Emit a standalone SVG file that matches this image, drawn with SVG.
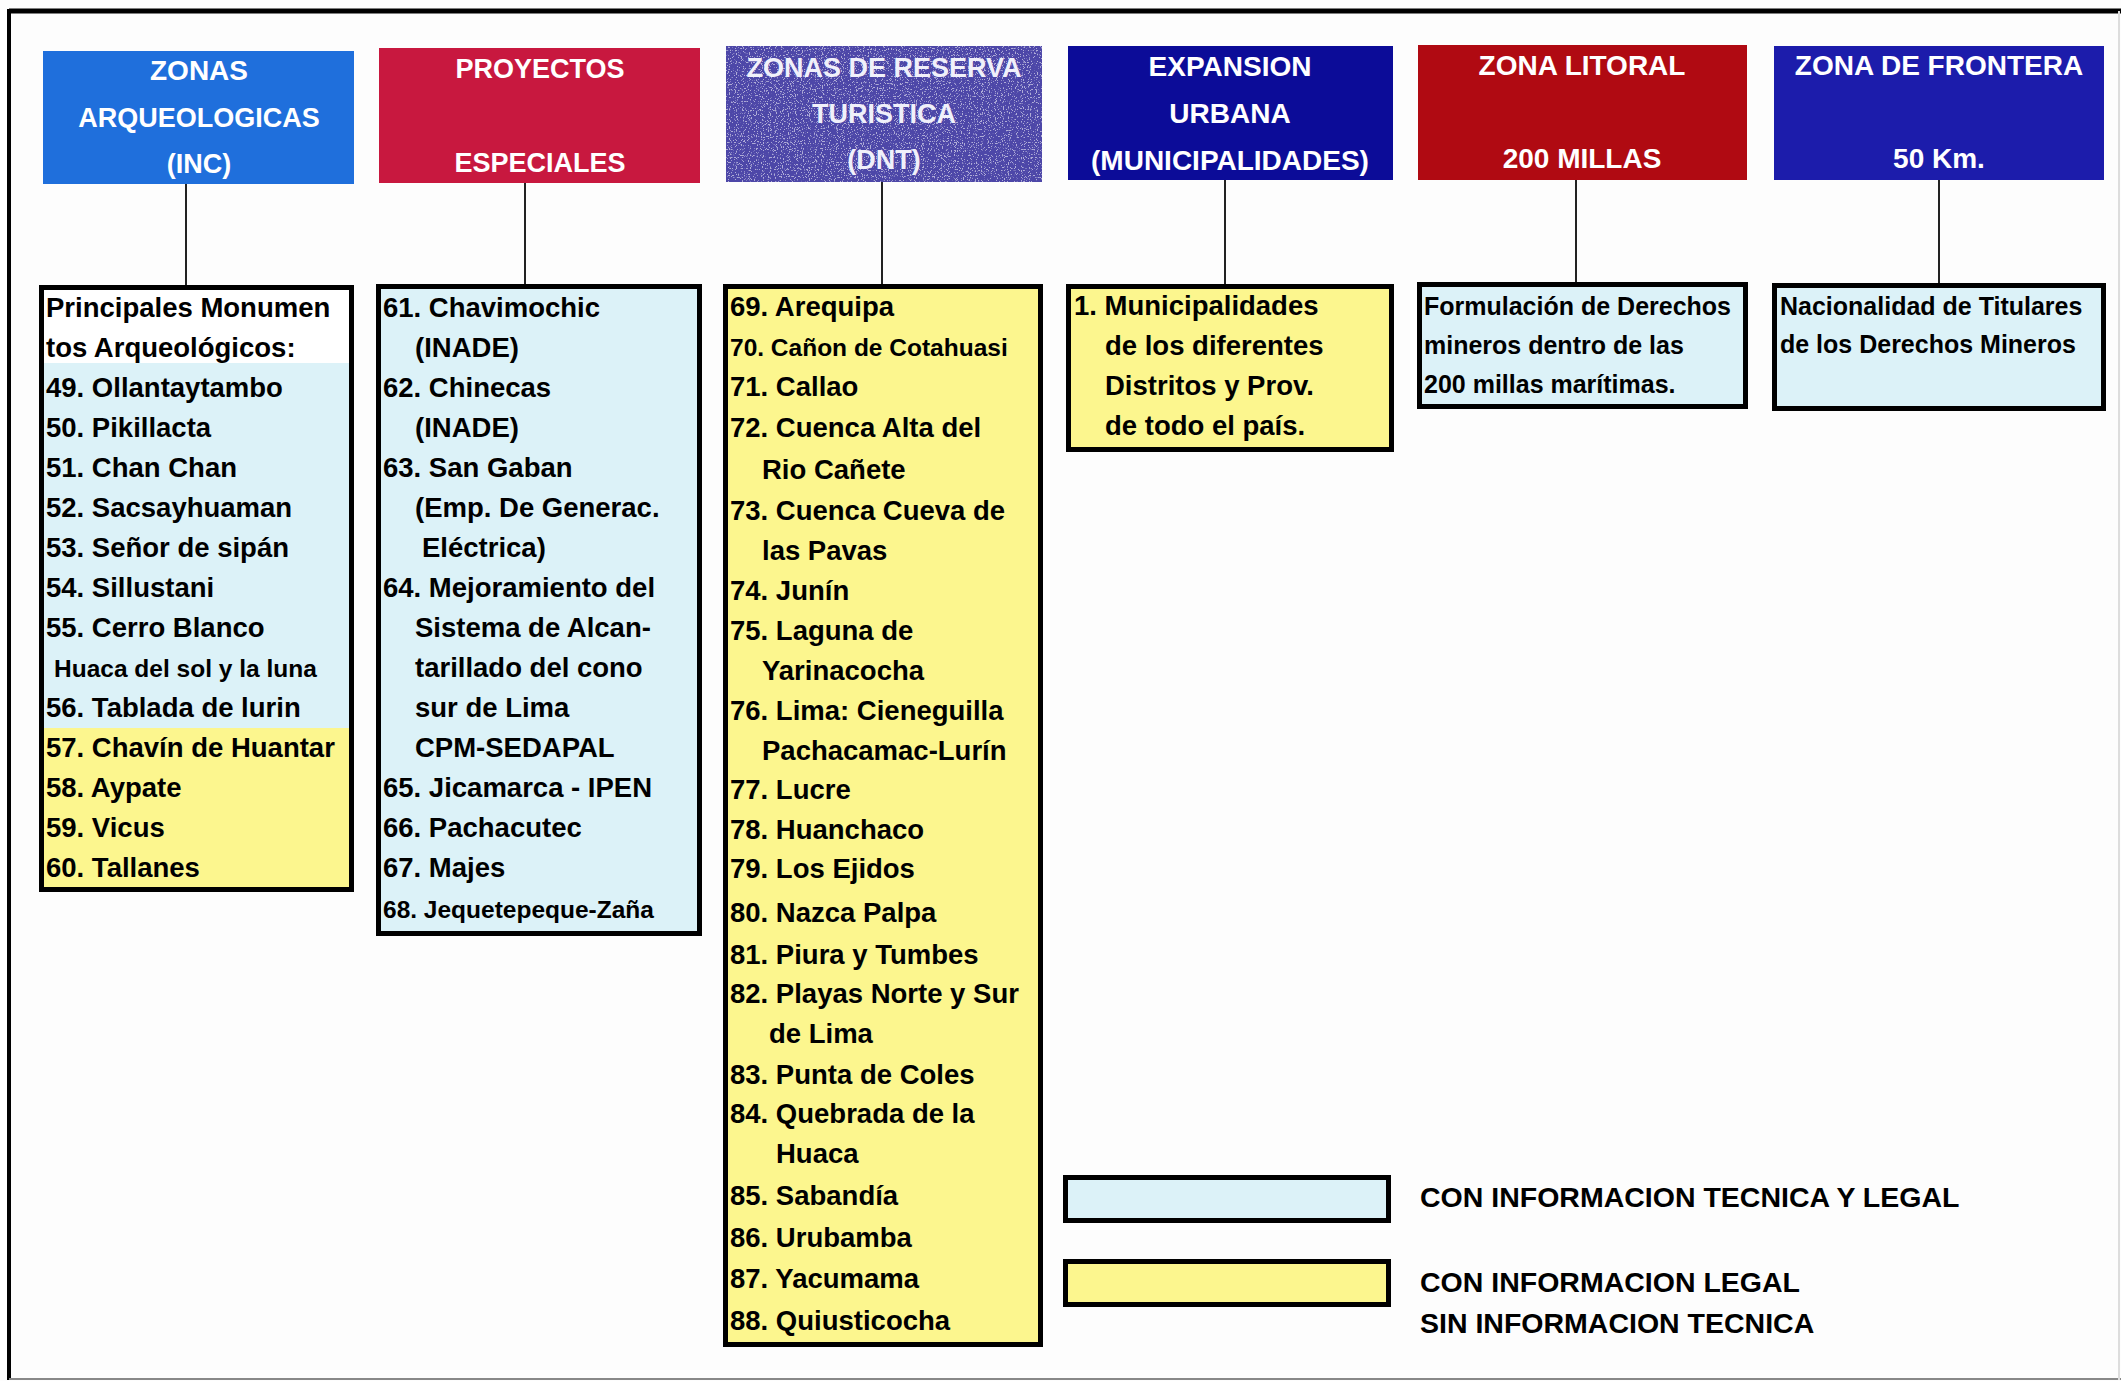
<svg xmlns="http://www.w3.org/2000/svg" width="2121" height="1381" viewBox="0 0 2121 1381">
<defs>
<style>
text{font-family:"Liberation Sans",Arial,sans-serif;font-weight:bold}
.h{fill:#fff;text-anchor:middle;font-size:28px}
.t{fill:#000;font-size:27.5px}
.s{fill:#000;font-size:24.5px}
.box{fill:none;stroke:#000;stroke-width:5}
.blue{fill:#dcf2f8}
.yel{fill:#fcf68e}
.con{stroke:#222;stroke-width:2;fill:none}
</style>
<filter id="speckle" x="0" y="0" width="100%" height="100%">
<feTurbulence type="fractalNoise" baseFrequency="0.85" numOctaves="2" seed="4" result="n"/>
<feColorMatrix in="n" type="matrix" values="0 0 0 0 1  0 0 0 0 1  0 0 0 0 1  12 0 0 0 -7.0"/>
<feComposite in2="SourceGraphic" operator="in"/>
</filter>
</defs>
<rect width="2121" height="1381" fill="#fdfdfd"/>
<g id="frame">
<line x1="9" y1="11" x2="2121" y2="11" stroke="#000" stroke-width="5"/>
<line x1="9" y1="9" x2="9" y2="1380" stroke="#000" stroke-width="4"/>
<line x1="9" y1="1379" x2="2121" y2="1379" stroke="#888" stroke-width="2"/>
<line x1="2119" y1="11" x2="2119" y2="1380" stroke="#ddd" stroke-width="2"/>
</g>
<g id="connectors">
<line class="con" x1="186" y1="184" x2="186" y2="287"/>
<line class="con" x1="525" y1="183" x2="525" y2="286"/>
<line class="con" x1="882" y1="182" x2="882" y2="286"/>
<line class="con" x1="1225" y1="180" x2="1225" y2="286"/>
<line class="con" x1="1576" y1="180" x2="1576" y2="284"/>
<line class="con" x1="1939" y1="180" x2="1939" y2="285"/>
</g>
<g id="h-arqueologicas">
<rect x="43" y="51" width="311" height="133" fill="#1f6fdc"/>
<text class="h" x="199" y="80" font-size="27">ZONAS</text>
<text class="h" x="199" y="127" style="font-size:27px">ARQUEOLOGICAS</text>
<text class="h" x="199" y="173" style="font-size:27px">(INC)</text>
</g>
<g id="h-proyectos">
<rect x="379" y="48" width="321" height="135" fill="#c8183f"/>
<text class="h" x="540" y="78" style="font-size:27px">PROYECTOS</text>
<text class="h" x="540" y="172" style="font-size:27px">ESPECIALES</text>
</g>
<g id="h-reserva">
<rect x="726" y="46" width="316" height="136" fill="#4d47a8"/>
<rect x="726" y="46" width="316" height="136" fill="#fff" opacity="0.55" filter="url(#speckle)"/>
<text class="h" x="884" y="77" style="font-size:27px;fill:#f0f0fa">ZONAS DE RESERVA</text>
<text class="h" x="884" y="123" style="font-size:27px;fill:#f0f0fa">TURISTICA</text>
<text class="h" x="884" y="169" style="font-size:27px;fill:#f0f0fa">(DNT)</text>
</g>
<g id="h-expansion">
<rect x="1068" y="46" width="325" height="134" fill="#0c0c98"/>
<text class="h" x="1230" y="76">EXPANSION</text>
<text class="h" x="1230" y="123">URBANA</text>
<text class="h" x="1230" y="170">(MUNICIPALIDADES)</text>
</g>
<g id="h-litoral">
<rect x="1418" y="45" width="329" height="135" fill="#b00a12"/>
<text class="h" x="1582" y="75">ZONA LITORAL</text>
<text class="h" x="1582" y="168">200 MILLAS</text>
</g>
<g id="h-frontera">
<rect x="1774" y="46" width="330" height="134" fill="#1c1cab"/>
<text class="h" x="1939" y="75">ZONA DE FRONTERA</text>
<text class="h" x="1939" y="168">50 Km.</text>
</g>
<g id="d-arqueologicas">
<rect x="44" y="290" width="308" height="73" fill="#fff"/>
<rect class="blue" x="44" y="363" width="308" height="365"/>
<rect class="yel" x="44" y="728" width="308" height="162"/>
<rect class="box" x="41.5" y="287.5" width="310" height="602"/>
<text class="t" x="46" y="317">Principales Monumen</text>
<text class="t" x="46" y="357">tos Arqueológicos:</text>
<text class="t" x="46" y="397">49. Ollantaytambo</text>
<text class="t" x="46" y="437">50. Pikillacta</text>
<text class="t" x="46" y="477">51. Chan Chan</text>
<text class="t" x="46" y="517">52. Sacsayhuaman</text>
<text class="t" x="46" y="557">53. Señor de sipán</text>
<text class="t" x="46" y="597">54. Sillustani</text>
<text class="t" x="46" y="637">55. Cerro Blanco</text>
<text class="s" x="54" y="677">Huaca del sol y la luna</text>
<text class="t" x="46" y="717">56. Tablada de lurin</text>
<text class="t" x="46" y="757">57. Chavín de Huantar</text>
<text class="t" x="46" y="797">58. Aypate</text>
<text class="t" x="46" y="837">59. Vicus</text>
<text class="t" x="46" y="877">60. Tallanes</text>
</g>
<g id="d-proyectos">
<rect class="blue" x="378.5" y="286.5" width="321" height="647"/>
<rect class="box" x="378.5" y="286.5" width="321" height="647"/>
<text class="t" x="383" y="317">61. Chavimochic</text>
<text class="t" x="415" y="357">(INADE)</text>
<text class="t" x="383" y="397">62. Chinecas</text>
<text class="t" x="415" y="437">(INADE)</text>
<text class="t" x="383" y="477">63. San Gaban</text>
<text class="t" x="415" y="517">(Emp. De Generac.</text>
<text class="t" x="422" y="557">Eléctrica)</text>
<text class="t" x="383" y="597">64. Mejoramiento del</text>
<text class="t" x="415" y="637">Sistema de Alcan-</text>
<text class="t" x="415" y="677">tarillado del cono</text>
<text class="t" x="415" y="717">sur de Lima</text>
<text class="t" x="415" y="757">CPM-SEDAPAL</text>
<text class="t" x="383" y="797">65. Jicamarca - IPEN</text>
<text class="t" x="383" y="837">66. Pachacutec</text>
<text class="t" x="383" y="877">67. Majes</text>
<text class="s" x="383" y="918">68. Jequetepeque-Zaña</text>
</g>
<g id="d-reserva">
<rect class="yel" x="725.5" y="286.5" width="315" height="1058"/>
<rect class="box" x="725.5" y="286.5" width="315" height="1058"/>
<text class="t" x="730" y="316">69. Arequipa</text>
<text class="s" x="730" y="356">70. Cañon de Cotahuasi</text>
<text class="t" x="730" y="396">71. Callao</text>
<text class="t" x="730" y="437">72. Cuenca Alta del</text>
<text class="t" x="762" y="479">Rio Cañete</text>
<text class="t" x="730" y="520">73. Cuenca Cueva de</text>
<text class="t" x="762" y="560">las Pavas</text>
<text class="t" x="730" y="600">74. Junín</text>
<text class="t" x="730" y="640">75. Laguna de</text>
<text class="t" x="762" y="680">Yarinacocha</text>
<text class="t" x="730" y="720">76. Lima: Cieneguilla</text>
<text class="t" x="762" y="760">Pachacamac-Lurín</text>
<text class="t" x="730" y="799">77. Lucre</text>
<text class="t" x="730" y="839">78. Huanchaco</text>
<text class="t" x="730" y="878">79. Los Ejidos</text>
<text class="t" x="730" y="922">80. Nazca Palpa</text>
<text class="t" x="730" y="964">81. Piura y Tumbes</text>
<text class="t" x="730" y="1003">82. Playas Norte y Sur</text>
<text class="t" x="769" y="1043">de Lima</text>
<text class="t" x="730" y="1084">83. Punta de Coles</text>
<text class="t" x="730" y="1123">84. Quebrada de la</text>
<text class="t" x="776" y="1163">Huaca</text>
<text class="t" x="730" y="1205">85. Sabandía</text>
<text class="t" x="730" y="1247">86. Urubamba</text>
<text class="t" x="730" y="1288">87. Yacumama</text>
<text class="t" x="730" y="1330">88. Quiusticocha</text>
</g>
<g id="d-expansion">
<rect class="yel" x="1068.5" y="286.5" width="323" height="163"/>
<rect class="box" x="1068.5" y="286.5" width="323" height="163"/>
<text class="t" x="1074" y="315">1. Municipalidades</text>
<text class="t" x="1105" y="355">de los diferentes</text>
<text class="t" x="1105" y="395">Distritos y Prov.</text>
<text class="t" x="1105" y="435">de todo el país.</text>
</g>
<g id="d-litoral">
<rect class="blue" x="1419.5" y="284.5" width="326" height="122"/>
<rect class="box" x="1419.5" y="284.5" width="326" height="122"/>
<text class="s" x="1424" y="315" style="font-size:25px">Formulación de Derechos</text>
<text class="s" x="1424" y="354" style="font-size:25px">mineros dentro de las</text>
<text class="s" x="1424" y="393" style="font-size:25px">200 millas marítimas.</text>
</g>
<g id="d-frontera">
<rect class="blue" x="1774.5" y="285.5" width="329" height="123"/>
<rect class="box" x="1774.5" y="285.5" width="329" height="123"/>
<text class="s" x="1780" y="315" style="font-size:25px">Nacionalidad de Titulares</text>
<text class="s" x="1780" y="353" style="font-size:25px">de los Derechos Mineros</text>
</g>
<g id="legend">
<rect class="blue" x="1065.5" y="1177.5" width="323" height="43"/>
<rect class="box" x="1065.5" y="1177.5" width="323" height="43"/>
<rect class="yel" x="1065.5" y="1261.5" width="323" height="43"/>
<rect class="box" x="1065.5" y="1261.5" width="323" height="43"/>
<text class="t" x="1420" y="1207" style="font-size:28.5px">CON INFORMACION TECNICA Y LEGAL</text>
<text class="t" x="1420" y="1292" style="font-size:28.5px">CON INFORMACION LEGAL</text>
<text class="t" x="1420" y="1333" style="font-size:28.5px">SIN INFORMACION TECNICA</text>
</g>
</svg>
